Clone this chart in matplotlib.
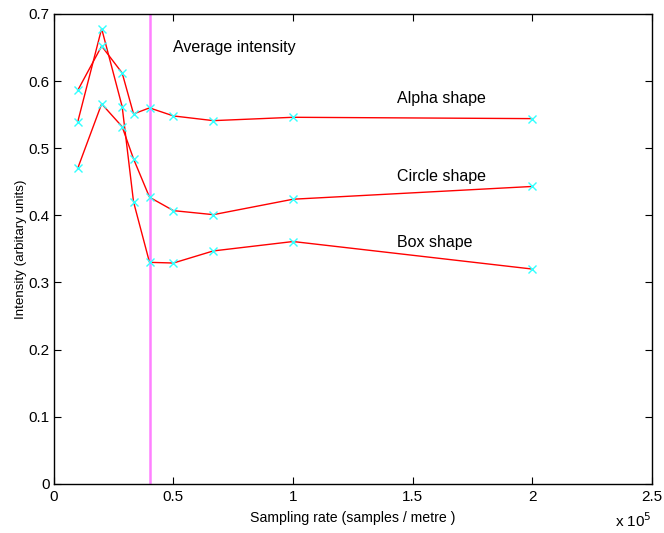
import numpy as np
import matplotlib.pyplot as plt
from matplotlib.ticker import FuncFormatter

plt.rcParams.update({
    'font.family': ['Liberation Sans', 'DejaVu Sans'],
    'font.size': 11,
    'xtick.direction': 'in',
    'ytick.direction': 'in',
    'xtick.top': True,
    'ytick.right': True,
    'xtick.major.size': 5,
    'ytick.major.size': 5,
})

# sampling rates (samples / metre)
rate = [1.0e4, 2.0e4, 2.857e4, 3.333e4, 4.0e4, 5.0e4, 6.667e4, 1.0e5, 2.0e5]

alpha_int = [0.586, 0.652, 0.612, 0.551, 0.560, 0.548, 0.541, 0.546, 0.544]
circle_int = [0.470, 0.566, 0.532, 0.484, 0.427, 0.407, 0.401, 0.424, 0.443]
box_int = [0.539, 0.678, 0.562, 0.420, 0.330, 0.329, 0.347, 0.361, 0.320]

avg_rate = 4.0e4

fig = plt.figure(figsize=(6.64, 5.33), dpi=100)
ax = fig.add_axes([0.081, 0.092, 0.901, 0.882])

for series in (alpha_int, circle_int, box_int):
    ax.plot(rate, series, color='red', linewidth=1.0, zorder=2)
    ax.plot(rate, series, linestyle='none', marker='x', color='#33ffff',
            markersize=6, markeredgewidth=1.0, zorder=3)

ax.axvline(avg_rate, color='#ff80ff', linewidth=1.8, zorder=1)

ax.text(5.0e4, 0.650, 'Average intensity', va='center', ha='left', fontsize=11.5)
ax.text(1.435e5, 0.574, 'Alpha shape', va='center', ha='left', fontsize=11.5)
ax.text(1.435e5, 0.458, 'Circle shape', va='center', ha='left', fontsize=11.5)
ax.text(1.435e5, 0.359, 'Box shape', va='center', ha='left', fontsize=11.5)

ax.set_xlim(0, 2.5e5)
ax.set_ylim(0, 0.7)
ax.set_xticks(np.arange(0, 2.51e5, 0.5e5))
ax.set_yticks(np.arange(0, 0.71, 0.1))
ax.xaxis.set_major_formatter(FuncFormatter(lambda v, p: f'{v / 1e5:g}'))
ax.yaxis.set_major_formatter(FuncFormatter(lambda v, p: f'{v:g}'))
ax.tick_params(axis='x', pad=4)
ax.tick_params(axis='y', pad=3)

ax.set_xlabel('Sampling rate (samples / metre )', fontsize=10.2)
ax.set_ylabel('Intensity (arbitary units)', fontsize=9.6)
ax.xaxis.set_label_coords(0.5, -0.057)
ax.yaxis.set_label_coords(-0.045, 0.5)
ax.text(1.0, -0.079, r'x 10$^5$', transform=ax.transAxes, ha='right', va='center')

for s in ax.spines.values():
    s.set_linewidth(1.0)

fig.savefig('out.png', dpi=100)
